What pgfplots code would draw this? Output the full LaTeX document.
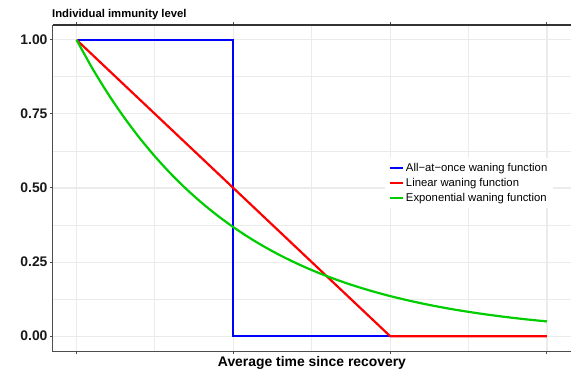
\documentclass[border=0pt]{standalone}
\usepackage{pgfplots}
\pgfplotsset{compat=1.18}
\usepackage{fontspec}
\setmainfont{Liberation Sans}
\definecolor{gridgrey}{HTML}{EBEBEB}
\definecolor{axisgrey}{HTML}{4D4D4D}
\definecolor{topgrey}{HTML}{333333}
\definecolor{wgreen}{HTML}{00CD00}
\begin{document}
\begin{tikzpicture}
% page frame: the axis box sits with its lower-left corner at the origin
\path[use as bounding box] (-53pt,-19pt) rectangle (518pt,351pt);
\begin{axis}[
  name=ax,
  scale only axis,
  width=517.5pt, height=326pt,
  xmin=-0.15, xmax=3.15, ymin=-0.05, ymax=1.05,
  xtick={0,1,2,3}, xticklabels={},
  minor xtick={0.5,1.5,2.5},
  ytick={0,0.25,0.5,0.75,1},
  minor ytick={0.125,0.375,0.625,0.875},
  yticklabels={\textbf{0.00},\textbf{0.25},\textbf{0.50},\textbf{0.75},\textbf{1.00}},
  y tick label style={font=\fontsize{13.9}{15}\selectfont, text=black!90, xshift=1pt},
  grid=both,
  major grid style={gridgrey, line width=1.1pt},
  minor grid style={gridgrey, line width=0.9pt},
  tick align=outside,
  major tick length=3pt,
  minor tick length=0pt,
  tick style={axisgrey, line width=1pt},
  axis line style={draw=none},
  clip=false,
  legend style={draw=none, fill=white, inner xsep=4pt, inner ysep=3pt,
    at={(rel axis cs:0.804,0.515)}, anchor=center,
    font=\fontsize{11.3}{13}\selectfont, row sep=1.3pt,
    /tikz/every even column/.append style={column sep=2pt}},
  legend cell align=left,
  legend image code/.code={\draw[#1] (0pt,0pt) -- (13pt,0pt);},
]
% all-at-once waning: full immunity until t = 1, then none
\addplot[blue, line width=2.2pt, line join=miter] coordinates {(0,1) (1,1) (1,0) (3,0)};
% linear waning: reaches zero at t = 2
\addplot[red, line width=2.2pt] coordinates {(0,1) (2,0) (3,0)};
% exponential waning
\addplot[wgreen, line width=2.2pt, smooth] coordinates {
(0,1) (0.1,0.9048) (0.2,0.8187) (0.3,0.7408) (0.4,0.6703) (0.5,0.6065)
(0.6,0.5488) (0.7,0.4966) (0.8,0.4493) (0.9,0.4066) (1.0,0.3679)
(1.1,0.3329) (1.2,0.3012) (1.3,0.2725) (1.4,0.2466) (1.5,0.2231)
(1.6,0.2019) (1.7,0.1827) (1.8,0.1653) (1.9,0.1496) (2.0,0.1353)
(2.1,0.1225) (2.2,0.1108) (2.3,0.1003) (2.4,0.0907) (2.5,0.0821)
(2.6,0.0743) (2.7,0.0672) (2.8,0.0608) (2.9,0.0550) (3.0,0.0498)};
\legend{All\textminus at\textminus once waning function, Linear waning function, Exponential waning function}
\end{axis}
% panel frame: left, bottom and top edges
\draw[axisgrey, line width=1pt] (ax.north west) -- (ax.south west) -- (ax.south east);
\draw[topgrey, line width=1.2pt] (ax.north west) -- (ax.north east);
\node[anchor=base west, inner sep=0pt, font=\fontsize{11.3}{13}\selectfont\bfseries] at (-1pt,333pt) {Individual immunity level};
\node[anchor=base, inner sep=0pt, font=\fontsize{13.9}{15}\selectfont\bfseries] at (259pt,-15.5pt) {Average time since recovery};
\end{tikzpicture}
\end{document}
